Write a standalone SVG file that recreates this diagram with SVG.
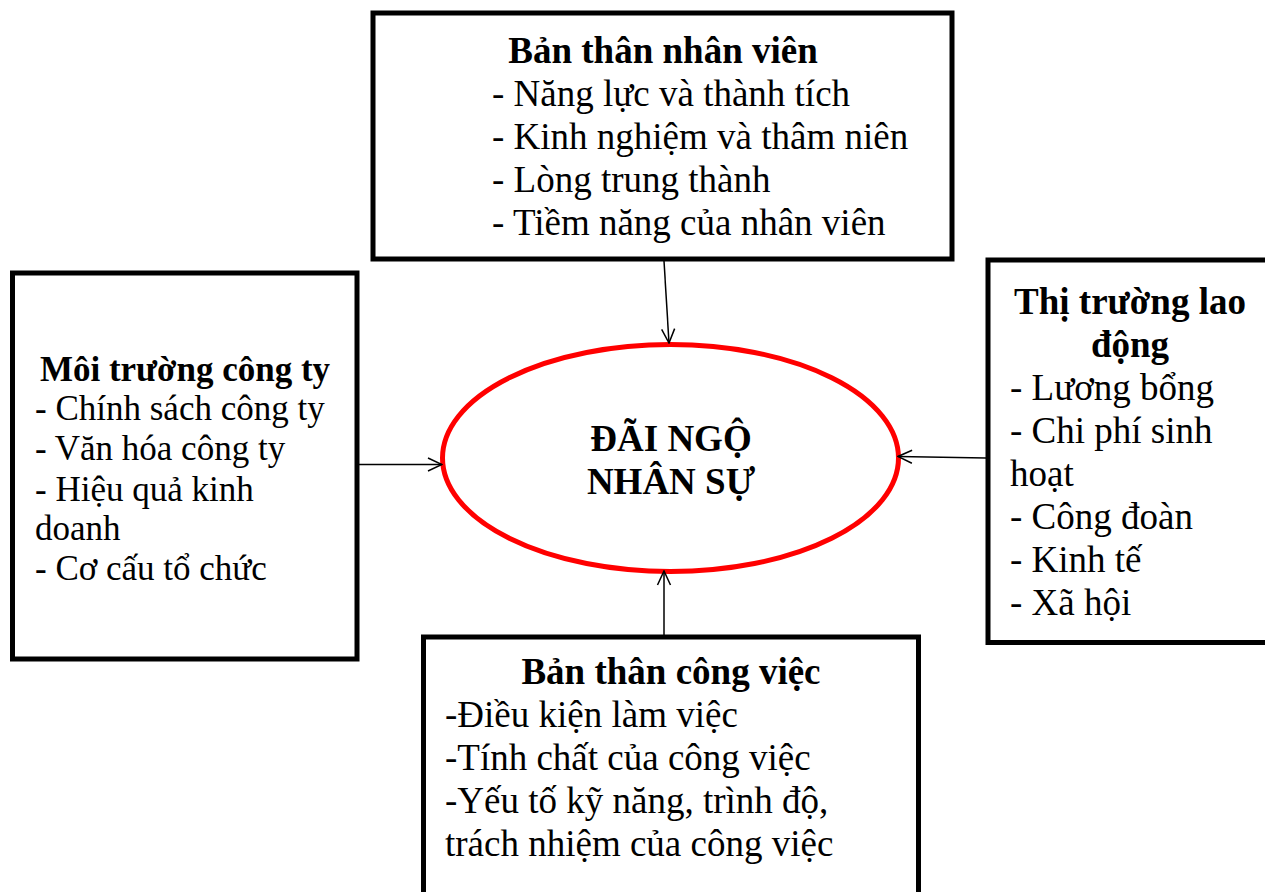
<svg xmlns="http://www.w3.org/2000/svg" width="1265" height="892" viewBox="0 0 1265 892">
<style>
.box{fill:#fff;stroke:#000;stroke-width:5}
.t{font-family:"Liberation Serif","Times New Roman",serif;font-size:37px;fill:#000}
.s{font-size:35px}
.b{font-weight:bold}
.c{text-anchor:middle}
.con{stroke:#000;stroke-width:1.5;fill:none}
</style>
<defs>
<marker id="arr" markerUnits="userSpaceOnUse" markerWidth="16" markerHeight="16" viewBox="0 0 16 16" refX="15" refY="8" orient="auto">
<path d="M1,1.5 L15,8 L1,14.5" fill="none" stroke="#000" stroke-width="1.5"/>
</marker>
</defs>
<rect width="1265" height="892" fill="#fff"/>
<g id="top">
<rect class="box" x="373" y="13" width="579" height="246"/>
<text class="t b c" x="663" y="63">Bản thân nhân viên</text>
<text class="t" x="492" y="106">- Năng lực và thành tích</text>
<text class="t" x="492" y="149">- Kinh nghiệm và thâm niên</text>
<text class="t" x="492" y="192">- Lòng trung thành</text>
<text class="t" x="492" y="235">- Tiềm năng của nhân viên</text>
</g>
<g id="left">
<rect class="box" x="12.5" y="273" width="344.5" height="386"/>
<text class="t s b c" x="185" y="381">Môi trường công ty</text>
<text class="t s" x="35" y="420">- Chính sách công ty</text>
<text class="t s" x="35" y="460">- Văn hóa công ty</text>
<text class="t s" x="35" y="501">- Hiệu quả kinh</text>
<text class="t s" x="35" y="540">doanh</text>
<text class="t s" x="35" y="580">- Cơ cấu tổ chức</text>
</g>
<g id="right">
<rect class="box" x="988" y="260" width="300" height="382.5"/>
<text class="t b c" x="1130" y="314">Thị trường lao</text>
<text class="t b c" x="1130" y="357">động</text>
<text class="t" x="1010" y="400">- Lương bổng</text>
<text class="t" x="1010" y="443">- Chi phí sinh</text>
<text class="t" x="1010" y="486">hoạt</text>
<text class="t" x="1010" y="529">- Công đoàn</text>
<text class="t" x="1010" y="572">- Kinh tế</text>
<text class="t" x="1010" y="615">- Xã hội</text>
</g>
<g id="bottom">
<rect class="box" x="423.5" y="637" width="495" height="300"/>
<text class="t b c" x="671" y="684">Bản thân công việc</text>
<text class="t" x="445" y="727">-Điều kiện làm việc</text>
<text class="t" x="445" y="770">-Tính chất của công việc</text>
<text class="t" x="445" y="813">-Yếu tố kỹ năng, trình độ,</text>
<text class="t" x="445" y="856">trách nhiệm của công việc</text>
</g>
<g id="center">
<ellipse cx="670.5" cy="458" rx="228" ry="113.5" fill="#fff" stroke="#ff0000" stroke-width="5"/>
<text class="t b c" x="671" y="451">ĐÃI NGỘ</text>
<text class="t b c" x="671" y="494">NHÂN SỰ</text>
</g>
<g id="connectors">
<line class="con" x1="664" y1="261" x2="669" y2="343" marker-end="url(#arr)"/>
<line class="con" x1="359" y1="464.5" x2="442" y2="464.5" marker-end="url(#arr)"/>
<line class="con" x1="986" y1="458" x2="898" y2="456.5" marker-end="url(#arr)"/>
<line class="con" x1="664" y1="635" x2="664" y2="571" marker-end="url(#arr)"/>
</g>
</svg>
